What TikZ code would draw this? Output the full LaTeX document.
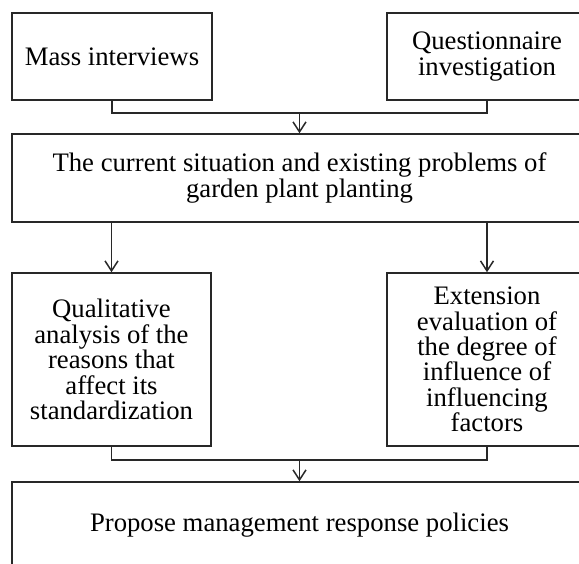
\documentclass[tikz,border=0pt]{standalone}
\usepackage{fontspec}
\setmainfont{Liberation Serif}
\usetikzlibrary{arrows.meta}
\definecolor{linec}{RGB}{40,40,40}
\begin{document}
\begin{tikzpicture}[x=1pt,y=-1pt,
  box/.style={draw=linec,line width=1.5pt,rectangle,align=center,inner sep=0pt,
    font=\fontsize{26.7pt}{25.4pt}\selectfont},
  conn/.style={draw=linec,line width=1.5pt},
  arr/.style={conn,-{Straight Barb[length=10pt,width=13pt,line width=1.5pt]}}]
\useasboundingbox (0,0) rectangle (579,564);
\clip (0,0) rectangle (579,564);
\node[box,minimum width=200pt,minimum height=87pt] (mass) at (112,56.5) {Mass interviews};
\node[box,minimum width=200pt,minimum height=87pt] (quest) at (487,56.5) {Questionnaire\\investigation};
\node[box,minimum width=575pt,minimum height=88pt] (cur) at (299.5,178) {The current situation and existing problems of\\garden plant planting};
\node[box,minimum width=199pt,minimum height=173pt] (qual) at (111.5,359.5) {Qualitative\\analysis of the\\reasons that\\affect its\\standardization};
\node[box,minimum width=200pt,minimum height=173pt] (ext) at (487,359.5) {Extension\\evaluation of\\the degree of\\influence of\\influencing\\factors};
\node[box,minimum width=575pt,minimum height=86pt] (prop) at (299.5,525) {Propose management response policies};
\coordinate (j1) at (299.5,113);
\coordinate (j2) at (299.5,460);
\draw[conn] (mass.south) |- (j1) -| (quest.south);
\draw[arr] (j1) -- (cur.north);
\draw[arr] (cur.south -| qual.north) -- (qual.north);
\draw[arr] (cur.south -| ext.north) -- (ext.north);
\draw[conn] (qual.south) |- (j2) -| (ext.south);
\draw[arr] (j2) -- (prop.north);
\end{tikzpicture}
\end{document}
